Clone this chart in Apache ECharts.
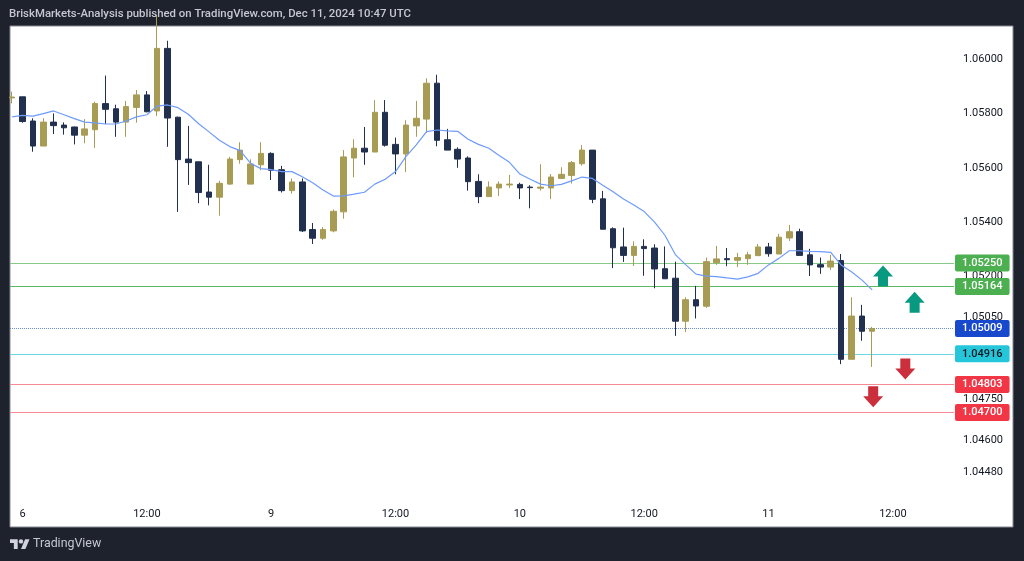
<!DOCTYPE html>
<html>
<head>
<meta charset="utf-8">
<title>EURUSD chart</title>
<script src="https://cdn.jsdelivr.net/npm/echarts@6/dist/echarts.min.js"></script>
<style>
  html, body { margin: 0; padding: 0; background: #1e222d; }
  #main { width: 1024px; height: 561px; }
</style>
</head>
<body>
<div id="main"></div>
<script>
// prices, one entry per candle
const opens = [1.05857,1.05861,1.05772,1.05680,1.05768,1.05757,1.05750,1.05720,1.05740,1.05836,1.05817,1.05768,1.05822,1.05868,1.05809,1.06039,1.05786,1.05632,1.05622,1.05511,1.05492,1.05540,1.05630,1.05540,1.05611,1.05653,1.05593,1.05516,1.05548,1.05373,1.05341,1.05368,1.05438,1.05636,1.05672,1.05658,1.05804,1.05686,1.05651,1.05754,1.05779,1.05911,1.05703,1.05668,1.05636,1.05550,1.05494,1.05526,1.05537,1.05539,1.05529,1.05525,1.05526,1.05561,1.05572,1.05615,1.05665,1.05486,1.05376,1.05309,1.05278,1.05311,1.05305,1.05229,1.05194,1.05036,1.05115,1.05091,1.05251,1.05266,1.05260,1.05266,1.05277,1.05309,1.05283,1.05342,1.05365,1.05280,1.05244,1.05235,1.05259,1.04896,1.05055,1.04999];
const closes = [1.05860,1.05770,1.05680,1.05768,1.05755,1.05747,1.05720,1.05743,1.05836,1.05815,1.05768,1.05825,1.05868,1.05806,1.06039,1.05783,1.05630,1.05619,1.05509,1.05492,1.05543,1.05632,1.05665,1.05614,1.05653,1.05591,1.05516,1.05548,1.05368,1.05341,1.05373,1.05440,1.05640,1.05672,1.05658,1.05804,1.05683,1.05651,1.05757,1.05782,1.05911,1.05701,1.05665,1.05632,1.05549,1.05494,1.05529,1.05540,1.05540,1.05526,1.05527,1.05529,1.05566,1.05576,1.05619,1.05665,1.05484,1.05374,1.05306,1.05278,1.05311,1.05303,1.05228,1.05192,1.05036,1.05115,1.05092,1.05255,1.05265,1.05262,1.05270,1.05280,1.05309,1.05284,1.05345,1.05365,1.05278,1.05243,1.05235,1.05257,1.04896,1.05055,1.04999,1.05009];
const lows = [1.05837,1.05766,1.05659,1.05680,1.05724,1.05722,1.05686,1.05690,1.05673,1.05761,1.05714,1.05714,1.05766,1.05804,1.05790,1.05677,1.05438,1.05537,1.05470,1.05462,1.05424,1.05538,1.05615,1.05540,1.05591,1.05555,1.05509,1.05505,1.05364,1.05320,1.05335,1.05363,1.05413,1.05565,1.05611,1.05658,1.05678,1.05576,1.05584,1.05714,1.05728,1.05679,1.05665,1.05600,1.05516,1.05470,1.05494,1.05496,1.05526,1.05485,1.05451,1.05516,1.05485,1.05561,1.05542,1.05608,1.05470,1.05374,1.05231,1.05254,1.05239,1.05203,1.05157,1.05192,1.04982,1.04996,1.05046,1.05085,1.05243,1.05238,1.05235,1.05243,1.05277,1.05273,1.05283,1.05331,1.05278,1.05202,1.05210,1.05224,1.04878,1.04895,1.04964,1.04868];
const highs = [1.05880,1.05861,1.05782,1.05782,1.05800,1.05767,1.05751,1.05779,1.05843,1.05939,1.05832,1.05846,1.05886,1.05882,1.06162,1.06067,1.05788,1.05754,1.05622,1.05611,1.05552,1.05640,1.05694,1.05631,1.05694,1.05657,1.05607,1.05561,1.05561,1.05397,1.05382,1.05447,1.05665,1.05705,1.05750,1.05849,1.05849,1.05711,1.05775,1.05846,1.05929,1.05942,1.05743,1.05675,1.05642,1.05576,1.05550,1.05550,1.05574,1.05545,1.05536,1.05613,1.05577,1.05602,1.05625,1.05684,1.05665,1.05515,1.05381,1.05380,1.05330,1.05337,1.05319,1.05311,1.05255,1.05124,1.05166,1.05270,1.05313,1.05305,1.05287,1.05291,1.05320,1.05324,1.05357,1.05390,1.05376,1.05302,1.05270,1.05280,1.05283,1.05124,1.05096,1.05015];
const maValues = [1.05787,1.05793,1.05790,1.05799,1.05809,1.05795,1.05781,1.05768,1.05765,1.05761,1.05761,1.05772,1.05787,1.05795,1.05827,1.05831,1.05821,1.05797,1.05762,1.05732,1.05701,1.05678,1.05663,1.05617,1.05597,1.05593,1.05586,1.05586,1.05567,1.05545,1.05518,1.05496,1.05497,1.05503,1.05510,1.05540,1.05558,1.05586,1.05641,1.05684,1.05733,1.05739,1.05736,1.05734,1.05705,1.05686,1.05672,1.05645,1.05620,1.05577,1.05558,1.05540,1.05534,1.05539,1.05552,1.05566,1.05561,1.05536,1.05512,1.05485,1.05463,1.05439,1.05400,1.05352,1.05281,1.05244,1.05209,1.05202,1.05200,1.05195,1.05191,1.05199,1.05212,1.05243,1.05267,1.05295,1.05295,1.05293,1.05292,1.05289,1.05243,1.05218,1.05188,1.05151];

// axis ticks
const priceTicks = [1.0448, 1.046, 1.0475, 1.0505, 1.052, 1.054, 1.056, 1.058, 1.06];
const timeTicks = [1, 13, 25, 37, 49, 61, 73, 85];
const timeLabels = ['6', '12:00', '9', '12:00', '10', '12:00', '11', '12:00'];

// horizontal levels
const levelValues = [1.0525, 1.05164, 1.05009, 1.04916, 1.04803, 1.047];
const levelColors = ['#4caf50', '#4caf50', '#1848cc', '#26c6da', '#f23645', '#f23645'];
const levelLineColors = ['#86c989', '#5fb863', '#6d8ddc', '#6fd8e6', '#f58a94', '#f58a94'];

// arrows, [candle position, price]
const upArrows = [[84.05, 1.05202], [87.1, 1.05106]];
const downArrows = [[86.2, 1.0486], [83.1, 1.04758]];

const candleData = opens.map(function (o, i) {
  return [i, o, closes[i], lows[i], highs[i]];
});
const maData = maValues.map(function (v, i) { return [i, v]; });

const arrowPath = 'path://M10 0L20 11L15 11L15 21L5 21L5 11L0 11Z';
const uiFont = 'Roboto, sans-serif';

var myChart = echarts.init(document.getElementById('main'));
var option = {
  animation: false,
  backgroundColor: '#1e222d',
  title: {
    text: 'BriskMarkets-Analysis published on TradingView.com, Dec 11, 2024 10:47 UTC',
    left: 9,
    top: 9,
    padding: 0,
    textStyle: { color: '#c5c8d0', fontSize: 11.4, fontWeight: 500, fontFamily: uiFont }
  },
  grid: { left: 10, top: 26, width: 944, height: 501 },
  xAxis: {
    type: 'value',
    min: -0.21,
    max: 90.9,
    splitLine: { show: false },
    axisLine: { show: false },
    axisTick: { show: false },
    axisLabel: {
      inside: true,
      margin: 7,
      color: '#131722',
      fontSize: 11,
      fontFamily: uiFont,
      customValues: timeTicks,
      formatter: function (v) { return timeLabels[timeTicks.indexOf(v)]; }
    }
  },
  yAxis: {
    type: 'value',
    position: 'right',
    min: 1.042794,
    max: 1.061213,
    splitLine: { show: false },
    axisLine: { show: false },
    axisTick: { show: false },
    axisLabel: {
      margin: 9,
      color: '#131722',
      fontSize: 11,
      fontFamily: uiFont,
      padding: [2, 0, 0, 0],
      customValues: priceTicks,
      formatter: function (v) { return v.toFixed(5); }
    }
  },
  graphic: [
    {
      type: 'rect',
      z: -1,
      shape: { x: 10, y: 26, width: 1003, height: 501 },
      style: { fill: '#ffffff', stroke: '#868993', lineWidth: 1 }
    },
    {
      type: 'group',
      x: 10,
      y: 537,
      scaleX: 0.55,
      scaleY: 0.55,
      children: [
        { type: 'polygon', shape: { points: [[0, 4], [14, 4], [14, 22], [7, 22], [7, 11], [0, 11]] }, style: { fill: '#d1d4dc' } },
        { type: 'polygon', shape: { points: [[27.5, 4], [35.5, 4], [28, 22], [20, 22]] }, style: { fill: '#d1d4dc' } },
        { type: 'circle', shape: { cx: 20, cy: 8, r: 4 }, style: { fill: '#d1d4dc' } }
      ]
    },
    {
      type: 'text',
      x: 33,
      y: 538,
      style: { text: 'TradingView', fill: '#c5c8d0', font: '400 12.4px ' + uiFont }
    }
  ],
  series: [
    {
      name: 'price',
      type: 'candlestick',
      barWidth: 6,
      data: candleData,
      itemStyle: {
        color: '#a89c54',
        color0: '#22304f',
        borderColor: '#a89c54',
        borderColor0: '#22304f',
        borderWidth: 1
      },
      markLine: {
        silent: true,
        z: 1,
        symbol: 'none',
        precision: 5,
        data: levelValues.map(function (v, i) {
          var textColor = levelColors[i] === '#26c6da' ? '#131722' : '#ffffff';
          return {
            yAxis: v,
            lineStyle: {
              color: levelLineColors[i],
              width: 1,
              type: v === 1.05009 ? 'dotted' : 'solid',
              opacity: 1
            },
            label: {
              show: true,
              position: 'end',
              distance: 1,
              formatter: v.toFixed(5),
              color: textColor,
              backgroundColor: levelColors[i],
              borderRadius: 2,
              padding: [4, 7, 2, 7],
              fontSize: 11,
              fontWeight: 500,
              fontFamily: uiFont
            }
          };
        })
      }
    },
    {
      name: 'ma',
      type: 'line',
      data: maData,
      showSymbol: false,
      lineStyle: { color: '#6e9bfb', width: 1.2 }
    },
    {
      name: 'up',
      type: 'scatter',
      data: upArrows,
      symbol: arrowPath,
      symbolSize: [20, 21],
      itemStyle: { color: '#089981', opacity: 1 }
    },
    {
      name: 'down',
      type: 'scatter',
      data: downArrows,
      symbol: arrowPath,
      symbolSize: [20, 21],
      symbolRotate: 180,
      itemStyle: { color: '#cc2f3c', opacity: 1 }
    }
  ]
};

option && myChart.setOption(option);
</script>
</body>
</html>
